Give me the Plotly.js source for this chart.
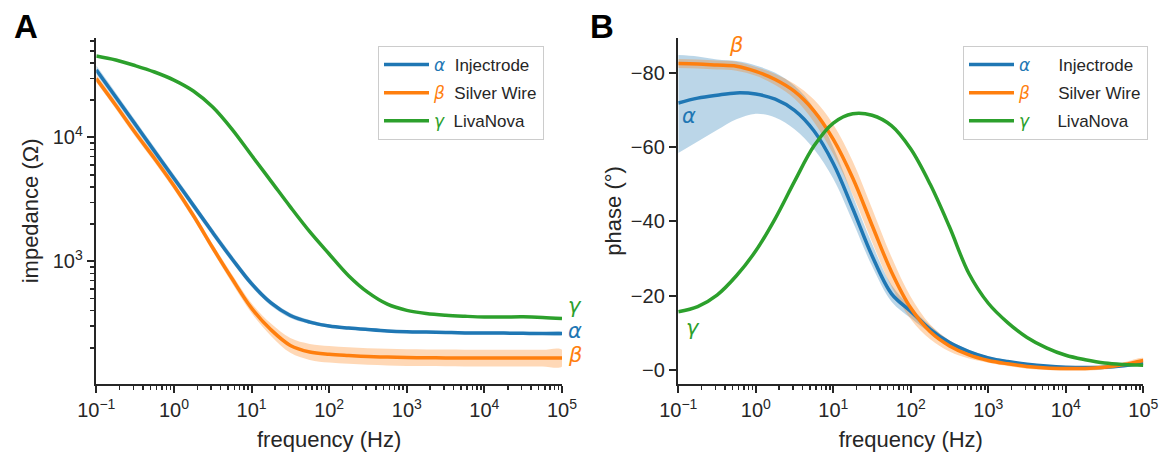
<!DOCTYPE html>
<html>
<head>
<meta charset="utf-8">
<script src="https://cdn.plot.ly/plotly-3.0.1.min.js"></script>
<style>html,body{margin:0;padding:0;background:#fff;}#chart{width:1161px;height:456px;}</style>
</head>
<body>
<div id="chart"></div>
<script>
// ---------- DATA ----------
const seriesNames = ['Injectrode', 'Silver Wire', 'LivaNova'];
const greekLabels = ['α', 'β', 'γ'];

// shared frequency grid (Hz), quarter-decade steps from 0.1 Hz to 100 kHz
const freq = [0.1, 0.178, 0.316, 0.562, 1, 1.78, 3.16, 5.62, 10, 17.8, 31.6, 56.2, 100, 178, 316, 562, 1000, 1778, 3162, 5623, 10000, 17783, 31623, 56234, 100000];

// Impedance panel (A), ohms
const injectrodeZ = [35080, 21230, 12820, 7745, 4688, 2831, 1710, 1047, 661, 462, 366, 324, 301, 290, 282, 275, 271, 269, 267, 265, 264, 264, 263, 262, 262];
const injectrodeZSpread = [0.035, 0.034, 0.033, 0.032, 0.03, 0.03, 0.028, 0.027, 0.025, 0.022, 0.02, 0.016, 0.013, 0.012, 0.012, 0.012, 0.012, 0.012, 0.012, 0.012, 0.012, 0.012, 0.012, 0.012, 0.012]; // log10 half-width
const silverZ = [29850, 18200, 10960, 6761, 4074, 2344, 1288, 724, 420, 281, 210, 186, 178, 174, 171, 169, 167.5, 167, 166.5, 166, 166, 166, 166, 166, 166];
const silverZSpread = [0.03, 0.03, 0.03, 0.03, 0.03, 0.03, 0.03, 0.035, 0.04, 0.05, 0.06, 0.065, 0.067, 0.067, 0.067, 0.067, 0.067, 0.067, 0.067, 0.067, 0.067, 0.067, 0.067, 0.067, 0.067];
const livanovaZ = [45400, 42170, 38020, 33730, 29040, 23710, 17580, 11610, 7178, 4446, 2754, 1738, 1148, 767, 562, 452, 403, 380, 368, 361, 356, 356, 357, 353, 346];

// Phase panel (B), degrees
const injectrodePh    = [-71.9, -73.2, -74.0, -74.6, -74.3, -72.9, -69.9, -64.4, -55.6, -43.5, -30.8, -20.6, -15.8, -11.0, -7.4, -5.0, -3.3, -2.3, -1.6, -1.1, -0.8, -0.7, -0.8, -1.2, -1.8];
const injectrodePhTop = [-84.8, -84.4, -83.6, -83.2, -82.0, -80.0, -76.5, -70.5, -60.0, -47.0, -34.0, -23.0, -17.0, -12.0, -8.0, -5.5, -3.7, -2.7, -1.9, -1.4, -1.0, -0.9, -1.0, -1.4, -2.0];
const injectrodePhBot = [-58.4, -61.5, -64.6, -67.5, -69.0, -68.0, -64.8, -59.5, -51.5, -40.0, -28.0, -18.5, -14.0, -10.0, -6.8, -4.5, -2.9, -1.9, -1.3, -0.8, -0.6, -0.5, -0.6, -1.0, -1.6];
const silverPh       = [-82.5, -82.4, -82.1, -81.8, -80.4, -78.2, -75.0, -69.8, -62.1, -51.7, -39.0, -26.5, -16.7, -10.3, -6.5, -4.1, -2.6, -1.7, -1.0, -0.6, -0.45, -0.45, -0.8, -1.5, -2.6];
const silverPhSpread = [1.2, 1.2, 1.2, 1.2, 1.2, 1.5, 2, 3, 4, 4.5, 4.5, 4, 3, 2, 1.5, 1, 0.6, 0.6, 0.6, 0.6, 0.6, 0.6, 0.6, 0.6, 0.6];
const livanovaPh     = [-15.7, -17.1, -20.2, -25.4, -32.1, -40.8, -50.8, -60.3, -66.5, -69.0, -68.6, -65.8, -59.5, -50.0, -38.5, -26.0, -18.0, -12.8, -8.8, -6.0, -4.0, -2.8, -1.9, -1.5, -1.3];

// Tick labels
const xTickVals = [0.1, 1, 10, 100, 1000, 10000, 100000];
const xTickText = ['10<sup>−1</sup>', '10<sup>0</sup>', '10<sup>1</sup>', '10<sup>2</sup>', '10<sup>3</sup>', '10<sup>4</sup>', '10<sup>5</sup>'];
const zTickVals = [1000, 10000];
const zTickText = ['10<sup>3</sup>', '10<sup>4</sup>'];
const phTickVals = [-80, -60, -40, -20, 0];
const phTickText = ['−80', '−60', '−40', '−20', '−0'];

// ---------- STYLE ----------
const colors = ['#1f77b4', '#ff7f0e', '#2ca02c'];
const bandColors = ['rgba(31,119,180,0.3)', 'rgba(255,127,14,0.3)'];
const INK = '#262626';
const FONT = 'Liberation Sans, Arial, sans-serif';
const GREEK_FONT = 'DejaVu Sans, sans-serif';
const W = 1161, H = 456;
const TICK_SIZE = 20, TITLE_SIZE = 22, LEGEND_SIZE = 17;

function band(x, lo, hi, color, xa, ya) {
  return {
    x: x.concat(x.slice().reverse()),
    y: hi.concat(lo.slice().reverse()),
    type: 'scatter', mode: 'lines', fill: 'toself', fillcolor: color,
    line: {width: 0, shape: 'spline', smoothing: 1},
    hoverinfo: 'skip', showlegend: false, xaxis: xa, yaxis: ya
  };
}
function line(x, y, i, xa, ya, legendName, legendId) {
  return {
    x: x, y: y, type: 'scatter', mode: 'lines',
    line: {color: colors[i], width: 3.5, shape: 'spline', smoothing: 1},
    name: legendName, showlegend: true, legend: legendId, legendgroup: legendId + '_' + i,
    xaxis: xa, yaxis: ya
  };
}
function legendText(i, gap) {
  return '<span style="color:' + colors[i] + ';font-family:' + GREEK_FONT + '"><i>' + greekLabels[i] + '</i></span>' + gap + seriesNames[i];
}
const logBand = (v, s, sign) => v.map((z, k) => z * Math.pow(10, sign * s[k]));

const traces = [
  band(freq, logBand(injectrodeZ, injectrodeZSpread, -1), logBand(injectrodeZ, injectrodeZSpread, 1), bandColors[0], 'x', 'y'),
  band(freq, logBand(silverZ, silverZSpread, -1), logBand(silverZ, silverZSpread, 1), bandColors[1], 'x', 'y'),
  line(freq, injectrodeZ, 0, 'x', 'y', legendText(0, '&nbsp;&nbsp;'), 'legend'),
  line(freq, silverZ, 1, 'x', 'y', legendText(1, '&nbsp;&nbsp;'), 'legend'),
  line(freq, livanovaZ, 2, 'x', 'y', legendText(2, '&nbsp;&nbsp;'), 'legend'),

  band(freq, injectrodePhBot, injectrodePhTop, bandColors[0], 'x2', 'y2'),
  band(freq, silverPh.map((v, k) => v + silverPhSpread[k]), silverPh.map((v, k) => v - silverPhSpread[k]), bandColors[1], 'x2', 'y2'),
  line(freq, injectrodePh, 0, 'x2', 'y2', legendText(0, '&nbsp;&nbsp;&nbsp;&nbsp;&nbsp;&nbsp;'), 'legend2'),
  line(freq, silverPh, 1, 'x2', 'y2', legendText(1, '&nbsp;&nbsp;&nbsp;&nbsp;&nbsp;&nbsp;'), 'legend2'),
  line(freq, livanovaPh, 2, 'x2', 'y2', legendText(2, '&nbsp;&nbsp;&nbsp;&nbsp;&nbsp;&nbsp;'), 'legend2')
];

const yDom = [1 - 383.5 / H, 1 - 38.3 / H];
function xAxis(dom, anchor) {
  return {
    type: 'log', range: [-1, 5], domain: dom, anchor: anchor,
    tickmode: 'array', tickvals: xTickVals, ticktext: xTickText,
    ticks: 'outside', ticklen: 7, tickwidth: 2, tickcolor: INK,
    showline: true, linecolor: INK, linewidth: 2.5, showgrid: false, zeroline: false,
    minor: {ticks: 'outside', ticklen: 4, tickwidth: 1.5, tickcolor: INK, dtick: 'D1', showgrid: false},
    tickfont: {family: FONT, size: TICK_SIZE, color: INK},
    title: {text: 'frequency (Hz)', font: {family: FONT, size: TITLE_SIZE, color: INK}, standoff: 12},
    automargin: false
  };
}
const legendBase = {
  xanchor: 'left', yanchor: 'top', itemwidth: 45,
  traceorder: 'grouped', tracegroupgap: 3,
  bordercolor: '#cccccc', borderwidth: 1, bgcolor: 'rgba(255,255,255,0.85)',
  font: {family: FONT, size: LEGEND_SIZE, color: INK}
};
const layout = {
  width: W, height: H,
  margin: {l: 0, r: 0, t: 0, b: 0},
  paper_bgcolor: '#fff', plot_bgcolor: '#fff',
  font: {family: FONT, color: INK},
  xaxis: xAxis([96.3 / W, 562 / W], 'y'),
  xaxis2: xAxis([678.3 / W, 1143.3 / W], 'y2'),
  yaxis: {
    type: 'log', range: [2.015, 4.80], domain: yDom, anchor: 'x',
    tickmode: 'array', tickvals: zTickVals, ticktext: zTickText,
    ticks: 'outside', ticklen: 7, tickwidth: 2, tickcolor: INK,
    showline: true, linecolor: INK, linewidth: 2.5, showgrid: false, zeroline: false,
    minor: {ticks: 'outside', ticklen: 4, tickwidth: 1.5, tickcolor: INK, dtick: 'D1', showgrid: false},
    tickfont: {family: FONT, size: TICK_SIZE, color: INK},
    title: {text: 'impedance (Ω)', font: {family: FONT, size: TITLE_SIZE, color: INK}, standoff: 8},
    automargin: false
  },
  yaxis2: {
    type: 'linear', range: [3.6, -89.3], domain: yDom, anchor: 'x2',
    tickmode: 'array', tickvals: phTickVals, ticktext: phTickText,
    ticks: 'outside', ticklen: 7, tickwidth: 2, tickcolor: INK,
    showline: true, linecolor: INK, linewidth: 2.5, showgrid: false, zeroline: false,
    tickfont: {family: FONT, size: TICK_SIZE, color: INK},
    title: {text: 'phase (°)', font: {family: FONT, size: TITLE_SIZE, color: INK}, standoff: 3},
    automargin: false
  },
  legend: Object.assign({x: 378 / W, y: 1 - 46 / H}, legendBase),
  legend2: Object.assign({x: 963 / W, y: 1 - 46 / H}, legendBase),
  annotations: [
    {text: '<b>A</b>', xref: 'paper', yref: 'paper', x: 12 / W, y: 1 - 6 / H, xanchor: 'left', yanchor: 'top', showarrow: false, font: {family: FONT, size: 33, color: '#000'}},
    {text: '<b>B</b>', xref: 'paper', yref: 'paper', x: 588 / W, y: 1 - 6 / H, xanchor: 'left', yanchor: 'top', showarrow: false, font: {family: FONT, size: 33, color: '#000'}},
    // Panel A end labels
    {text: '<i>' + greekLabels[2] + '</i>', xref: 'x', yref: 'y', x: Math.log10(freq[freq.length - 1]), y: Math.log10(livanovaZ[livanovaZ.length - 1]), xanchor: 'left', yanchor: 'middle', xshift: 4, yshift: 13, showarrow: false, font: {family: GREEK_FONT, size: 21, color: colors[2]}},
    {text: '<i>' + greekLabels[0] + '</i>', xref: 'x', yref: 'y', x: Math.log10(freq[freq.length - 1]), y: Math.log10(injectrodeZ[injectrodeZ.length - 1]), xanchor: 'left', yanchor: 'middle', xshift: 4, yshift: 3, showarrow: false, font: {family: GREEK_FONT, size: 21, color: colors[0]}},
    {text: '<i>' + greekLabels[1] + '</i>', xref: 'x', yref: 'y', x: Math.log10(freq[freq.length - 1]), y: Math.log10(silverZ[silverZ.length - 1]), xanchor: 'left', yanchor: 'middle', xshift: 4, yshift: 3, showarrow: false, font: {family: GREEK_FONT, size: 21, color: colors[1]}},
    // Panel B labels
    {text: '<i>' + greekLabels[1] + '</i>', xref: 'x2', yref: 'y2', x: Math.log10(freq[3]), y: silverPh[3], xanchor: 'center', yanchor: 'middle', yshift: 21, showarrow: false, font: {family: GREEK_FONT, size: 21, color: colors[1]}},
    {text: '<i>' + greekLabels[0] + '</i>', xref: 'x2', yref: 'y2', x: Math.log10(freq[0]), y: injectrodePh[0], xanchor: 'left', yanchor: 'middle', xshift: 2, yshift: -13, showarrow: false, font: {family: GREEK_FONT, size: 21, color: colors[0]}},
    {text: '<i>' + greekLabels[2] + '</i>', xref: 'x2', yref: 'y2', x: Math.log10(freq[0]), y: livanovaPh[0], xanchor: 'left', yanchor: 'middle', xshift: 6, yshift: -16, showarrow: false, font: {family: GREEK_FONT, size: 21, color: colors[2]}}
  ]
};

Plotly.newPlot('chart', traces, layout, {displayModeBar: false, staticPlot: true});
</script>
</body>
</html>
